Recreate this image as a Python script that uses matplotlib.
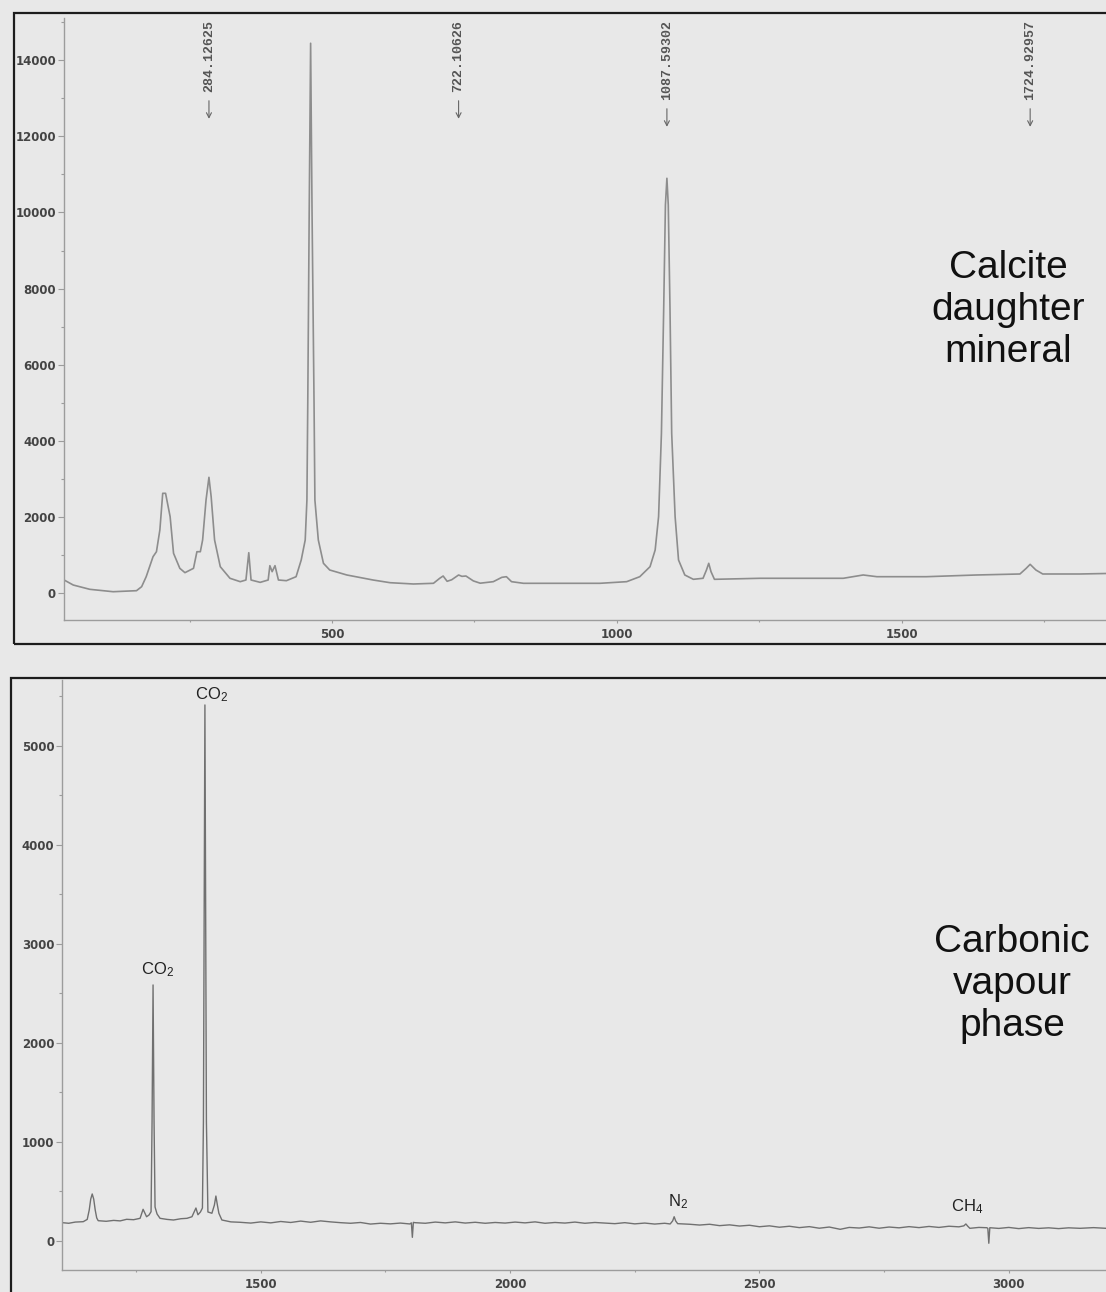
import matplotlib
matplotlib.use("Agg")
import matplotlib.pyplot as plt
from matplotlib.patches import Rectangle
from matplotlib.text import OffsetFrom
from matplotlib.ticker import MultipleLocator

plt.rcParams["mathtext.fontset"] = "custom"
plt.rcParams["mathtext.rm"] = "Liberation Sans"
plt.rcParams["mathtext.it"] = "Liberation Sans:italic"

# calcite daughter mineral spectrum (Raman shift, counts)
calcite_shift = [30, 46, 75, 116, 157, 166, 174, 186, 192, 198, 203, 208, 216, 222,
                 233, 242, 257, 263, 269, 273, 279, 284.1, 288, 294, 304, 321, 339,
                 349, 354, 358, 374, 388, 391, 395, 400, 406, 420, 437, 446, 453, 456,
                 457.5, 460, 462.5, 465, 468.5, 470, 476, 485, 496, 526, 572, 602, 643,
                 678, 689, 695, 702, 710, 722.1, 728, 735, 748, 760, 783, 798, 806, 815,
                 836, 897, 970, 1017, 1040, 1058, 1067, 1073, 1078, 1082, 1085, 1087.6,
                 1090, 1093, 1096, 1102, 1108, 1119, 1134, 1151, 1157, 1161, 1165, 1171,
                 1251, 1397, 1432, 1456, 1543, 1631, 1707, 1718, 1724.9, 1735, 1747,
                 1812, 1858]
calcite_counts = [334, 202, 89, 26, 53, 158, 421, 947, 1078, 1650, 2614, 2614, 2000, 1036,
                  641, 527, 641, 1078, 1078, 1386, 2438, 3035, 2525, 1386, 684, 379, 290,
                  334, 1052, 334, 272, 334, 711, 553, 711, 334, 316, 421, 860, 1386, 2438,
                  5000, 10000, 14450, 10000, 5000, 2438, 1386, 773, 597, 466, 334, 263, 229,
                  247, 379, 439, 300, 340, 466, 430, 439, 310, 250, 290, 404, 421, 290,
                  247, 247, 247, 290, 421, 684, 1123, 2000, 4192, 7500, 10200, 10900,
                  10200, 7500, 4192, 2000, 860, 466, 352, 379, 597, 773, 553, 352,
                  379, 379, 466, 421, 421, 466, 492, 641, 746, 597, 492,
                  492, 505]

# carbonic vapour phase spectrum
vapour_shift = [1102, 1115, 1128, 1144, 1152, 1156, 1159, 1162, 1165, 1168, 1171, 1174,
                1190, 1205, 1218, 1231, 1245, 1258, 1264, 1271, 1276, 1280, 1282, 1284,
                1286, 1288, 1292, 1298, 1312, 1325, 1340, 1352, 1362, 1368, 1370, 1374,
                1379, 1383, 1385, 1388, 1391, 1394, 1402, 1407, 1410, 1413, 1416, 1422,
                1440, 1458, 1480, 1500, 1520, 1540, 1560, 1580, 1600, 1620, 1640, 1660,
                1680, 1700, 1720, 1740, 1760, 1780, 1799, 1802, 1804, 1806, 1809, 1830,
                1850, 1870, 1890, 1910, 1930, 1950, 1970, 1990, 2010, 2030, 2050, 2070,
                2090, 2110, 2130, 2150, 2170, 2190, 2210, 2230, 2250, 2270, 2290, 2310,
                2321, 2326, 2329, 2332, 2336, 2360, 2380, 2400, 2420, 2440, 2460, 2480,
                2500, 2520, 2540, 2560, 2580, 2600, 2620, 2640, 2662, 2680, 2700, 2720,
                2740, 2760, 2780, 2800, 2820, 2840, 2860, 2880, 2900, 2910, 2914, 2918,
                2922, 2940, 2956, 2958, 2960, 2962, 2980, 3000, 3020, 3040, 3060, 3080,
                3100, 3120, 3143, 3170, 3195]
vapour_counts = [182, 176, 188, 192, 215, 310, 420, 472, 420, 310, 230, 202,
                 196, 205, 200, 216, 212, 226, 317, 242, 260, 293, 1200, 2583,
                 1200, 340, 270, 226, 215, 209, 222, 226, 242, 310, 330, 262,
                 290, 330, 1200, 5411, 1200, 290, 277, 360, 451, 360, 277, 209,
                 190, 186, 178, 190, 180, 194, 184, 198, 186, 200, 190, 182,
                 176, 184, 168, 176, 170, 178, 169, 180, 34, 185, 182, 176,
                 188, 180, 190, 178, 186, 176, 184, 178, 188, 180, 190, 176,
                 184, 178, 188, 176, 184, 178, 172, 182, 170, 178, 168, 176,
                 169, 200, 242, 200, 172, 166, 158, 166, 152, 160, 148, 156,
                 141, 150, 136, 146, 132, 142, 126, 138, 115, 134, 128, 140,
                 126, 138, 130, 142, 132, 144, 134, 146, 140, 150, 169, 145,
                 125, 134, 131, 125, -26, 131, 124, 134, 122, 132, 124, 130,
                 122, 130, 125, 132, 125]

calcite_peaks = ["284.12625", "722.10626", "1087.59302", "1724.92957"]

vapour_labels = [r"CO$_\mathrm{2}$", r"CO$_\mathrm{2}$", r"N$_\mathrm{2}$", r"CH$_\mathrm{4}$"]
vapour_label_x = [1401, 1292, 2336, 2916]
vapour_label_y = [5515, 2734, 398, 340]

calcite_xticks = [500, 1000, 1500]
calcite_yticks = [0, 2000, 4000, 6000, 8000, 10000, 12000, 14000]
vapour_xticks = [1500, 2000, 2500, 3000]
vapour_yticks = [0, 1000, 2000, 3000, 4000, 5000]

bg = "#e8e8e8"
W, H = 1106, 1292
fig = plt.figure(figsize=(W / 100, H / 100), dpi=100, facecolor=bg)


def style(ax, xticks, yticks, xminor, yminor):
    ax.set_facecolor("none")
    for s in ("top", "right"):
        ax.spines[s].set_visible(False)
    for s in ("left", "bottom"):
        ax.spines[s].set_color("#9c9c9c")
        ax.spines[s].set_linewidth(1.0)
    ax.set_xticks(xticks)
    ax.set_yticks(yticks)
    ax.xaxis.set_minor_locator(MultipleLocator(xminor))
    ax.yaxis.set_minor_locator(MultipleLocator(yminor))
    ax.tick_params(which="both", color="#9c9c9c", width=0.8, labelcolor="#444444",
                   labelsize=8.5)
    ax.tick_params(axis="x", which="major", length=2.5, pad=3)
    ax.tick_params(axis="x", which="minor", length=1.5)
    ax.tick_params(axis="y", which="major", length=4.3, pad=1.5)
    ax.tick_params(axis="y", which="minor", length=2.5)
    plt.setp(ax.get_xticklabels() + ax.get_yticklabels(), fontweight="bold")


# outer boxes round each spectrum
fig.patches.append(Rectangle((14 / W, 1 - 644 / H), 1.0, (644 - 13) / H,
                             transform=fig.transFigure, fill=False,
                             ec="#1c1c1c", lw=1.6))
fig.patches.append(Rectangle((11 / W, -0.05), 1.0, 0.05 + 1 - 678 / H,
                             transform=fig.transFigure, fill=False,
                             ec="#1c1c1c", lw=1.6))

# top: calcite
ax1 = fig.add_axes([64 / W, 1 - 620 / H, (W - 64) / W, (620 - 18) / H])
ax1.plot(calcite_shift, calcite_counts, color="#8d8d8d", lw=1.2)
ax1.set_xlim(29.8, 1858)
ax1.set_ylim(-718, 15115)
style(ax1, calcite_xticks, calcite_yticks, 250, 1000)

for lab in calcite_peaks:
    t = ax1.annotate(lab, xy=(float(lab), 0.996), xycoords=("data", "axes fraction"),
                     rotation=90, ha="center", va="top", fontsize=9.5,
                     family="Liberation Mono", fontweight="bold", color="#555555")
    ax1.annotate("", xy=(0, -19), xycoords=OffsetFrom(t, (0.5, 0)),
                 xytext=(0, -6), textcoords=OffsetFrom(t, (0.5, 0)),
                 arrowprops=dict(arrowstyle="->,head_length=0.35,head_width=0.18",
                                 color="#666666", lw=0.8, shrinkA=0, shrinkB=0))

# bottom: carbonic vapour
ax2 = fig.add_axes([62.3 / W, 1 - 1270 / H, (W - 62.3) / W, (1270 - 680) / H])
ax2.plot(vapour_shift, vapour_counts, color="#707070", lw=1.0)
ax2.set_xlim(1102, 3195)
ax2.set_ylim(-296, 5663)
style(ax2, vapour_xticks, vapour_yticks, 250, 500)

for lab, x, y in zip(vapour_labels, vapour_label_x, vapour_label_y):
    ax2.text(x, y, lab, ha="center", va="center", fontsize=12,
             family="Liberation Sans", color="#222222")

fig.text(1008 / W, 1 - 310 / H, "Calcite\ndaughter\nmineral", ha="center",
         va="center", fontsize=28, family="Liberation Sans", linespacing=1.2,
         color="#111111")
fig.text(1012 / W, 1 - 984 / H, "Carbonic\nvapour\nphase", ha="center",
         va="center", fontsize=28, family="Liberation Sans", linespacing=1.2,
         color="#111111")

fig.savefig("out.png", dpi=100, facecolor=bg)
